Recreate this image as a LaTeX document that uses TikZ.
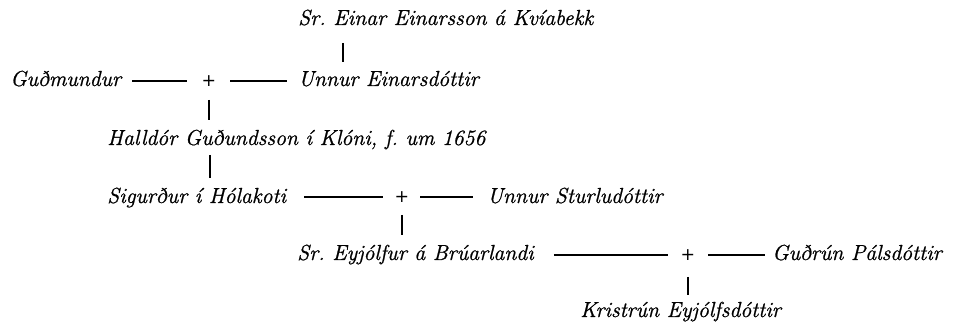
\documentclass[tikz,border=0pt]{standalone}
\usepackage{fontspec}
\newfontfamily\namefont{Latin Modern Roman}[FakeBold=0.9]
\newfontfamily\plusfont{DejaVu Sans}
\frenchspacing
\begin{document}
\begin{tikzpicture}[x=0.75pt,y=-0.75pt,
  person/.style={anchor=base west,inner sep=0pt,font=\fontsize{16.3}{19}\namefont\itshape},
  union/.style={inner sep=0pt,font=\fontsize{13}{15}\plusfont},
  link/.style={line width=1.3pt},
]
\useasboundingbox (0,0) rectangle (953,327);
% people
\node[person] (einar)   at (298,25)  {Sr. Einar Einarsson á Kvíabekk};
\node[person] (gudm)    at (10,86)   {Guðmundur};
\node[union]  (p1)      at (209,81)  {+};
\node[person] (unnurE)  at (298,86)  {Unnur Einarsdóttir};
\node[person] (halldor) at (107,145) {Halldór Guðundsson í Klóni, f. um 1656};
\node[person] (sig)     at (107,203) {Sigurður í Hólakoti};
\node[union]  (p2)      at (402,197) {+};
\node[person] (unnurS)  at (487,203) {Unnur Sturludóttir};
\node[person] (eyj)     at (297,260) {Sr. Eyjólfur á Brúarlandi};
\node[union]  (p3)      at (688,255) {+};
\node[person] (gudrun)  at (772,260) {Guðrún Pálsdóttir};
\node[person] (krist)   at (580,317) {Kristrún Eyjólfsdóttir};
% marriage lines
\draw[link,shorten <=8.25pt,shorten >=16.5pt] (gudm.east |- p1) -- (p1.center);
\draw[link,shorten <=15.75pt,shorten >=8.25pt] (p1.center) -- (unnurE.west |- p1);
\draw[link,shorten <=13.5pt,shorten >=14.25pt] (sig.east |- p2) -- (p2.center);
\draw[link,shorten <=13.5pt,shorten >=10.5pt] (p2.center) -- (unnurS.west |- p2);
\draw[link,shorten <=15pt,shorten >=15pt] (eyj.east |- p3) -- (p3.center);
\draw[link,shorten <=15pt,shorten >=5.25pt] (p3.center) -- (gudrun.west |- p3);
% descent lines
\draw[link,shorten <=13.5pt,shorten >=18pt] ([xshift=33.75pt]einar.base west) -- ([xshift=33.75pt]unnurE.base west);
\draw[link,shorten <=14.25pt,shorten >=18.75pt] (p1.center) -- (p1 |- halldor.base);
\draw[link,shorten <=7.5pt,shorten >=18.75pt] ([xshift=77.25pt]halldor.base west) -- ([xshift=77.25pt]sig.base west);
\draw[link,shorten <=13.5pt,shorten >=18.75pt] (p2.center) -- (p2 |- eyj.base);
\draw[link,shorten <=16.5pt,shorten >=16.5pt] (p3.center) -- (p3 |- krist.base);
\end{tikzpicture}
\end{document}
